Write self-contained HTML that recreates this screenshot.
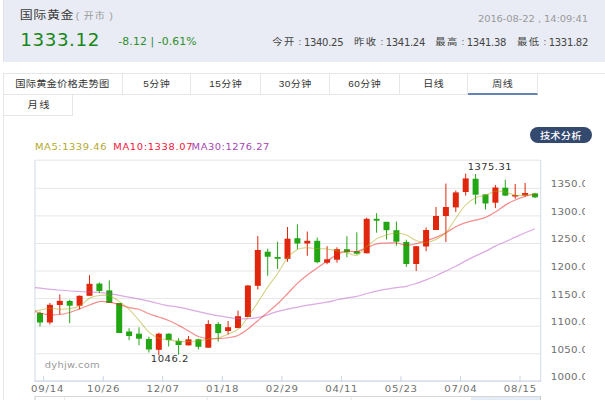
<!DOCTYPE html>
<html><head><meta charset="utf-8"><style>
*{margin:0;padding:0;box-sizing:border-box}
html,body{width:605px;height:400px;overflow:hidden;background:#fff}
body{position:relative;font-family:'Liberation Sans','Noto Sans CJK SC',sans-serif}
.t{position:absolute;white-space:nowrap;line-height:1;transform-origin:0 0}
#hdr{position:absolute;left:3px;top:0;width:602px;height:62px;background:#e9ecf5;border-left:1px solid #e0e3ec}
#box{position:absolute;left:3px;top:73px;width:603px;height:340px;border:1px solid #e6e6e6}
.tab{position:absolute;top:74px;height:21px;border-right:1px solid #e6e6e6;border-bottom:1px solid #e6e6e6}
.tab.act{border-bottom:2px solid #6684b3}
#ylab{position:absolute;left:540px;top:150px;width:45.3px;height:240px;overflow:hidden}
</style></head><body>
<div id="hdr"></div>
<div class="t" style="left:19.73px;top:9.70px;font-size:13.00px;letter-spacing:0.63px;transform:scaleY(0.840);color:#3a3a3a;font-family:'Liberation Sans','Noto Sans CJK SC',sans-serif;font-weight:400;">国际黄金</div>
<div class="t" style="left:75.80px;top:11.70px;font-size:10.00px;letter-spacing:0.98px;transform:scaleY(0.872);color:#9a9a9a;font-family:'Liberation Sans','Noto Sans CJK SC',sans-serif;font-weight:400;">( 开市 )</div>
<div class="t" style="left:20.19px;top:31.89px;font-size:18.30px;letter-spacing:0.60px;transform:scaleY(0.933);color:#17871a;font-family:'DejaVu Sans',sans-serif;">1333.12</div>
<div class="t" style="left:118.36px;top:37.46px;font-size:10.84px;letter-spacing:0.10px;transform:scaleY(0.959);color:#2b8f2b;font-family:'DejaVu Sans',sans-serif;">-8.12 | -0.61%</div>
<div class="t" style="left:477.90px;top:14.10px;font-size:9.97px;letter-spacing:-0.10px;transform:scaleY(0.950);color:#9a9a9a;font-family:'DejaVu Sans',sans-serif;">2016-08-22 , 14:09:41</div>
<div class="t" style="left:272.29px;top:37.80px;font-size:10.30px;letter-spacing:1.43px;transform:scaleY(0.878);color:#444;font-family:'Liberation Sans','Noto Sans CJK SC',sans-serif;font-weight:400;">今开</div>
<div class="t" style="left:298.60px;top:37.60px;font-size:8.08px;letter-spacing:0.00px;transform:scaleY(1.000);color:#555;font-family:'DejaVu Sans',sans-serif;">:</div>
<div class="t" style="left:303.90px;top:37.60px;font-size:10.03px;letter-spacing:-0.30px;transform:scaleY(0.990);color:#444;font-family:'DejaVu Sans',sans-serif;">1340.25</div>
<div class="t" style="left:354.09px;top:37.80px;font-size:10.30px;letter-spacing:1.43px;transform:scaleY(0.878);color:#444;font-family:'Liberation Sans','Noto Sans CJK SC',sans-serif;font-weight:400;">昨收</div>
<div class="t" style="left:380.40px;top:37.60px;font-size:8.08px;letter-spacing:0.00px;transform:scaleY(1.000);color:#555;font-family:'DejaVu Sans',sans-serif;">:</div>
<div class="t" style="left:385.70px;top:37.60px;font-size:10.03px;letter-spacing:-0.30px;transform:scaleY(0.990);color:#444;font-family:'DejaVu Sans',sans-serif;">1341.24</div>
<div class="t" style="left:435.19px;top:37.80px;font-size:10.30px;letter-spacing:1.43px;transform:scaleY(0.878);color:#444;font-family:'Liberation Sans','Noto Sans CJK SC',sans-serif;font-weight:400;">最高</div>
<div class="t" style="left:461.50px;top:37.60px;font-size:8.08px;letter-spacing:0.00px;transform:scaleY(1.000);color:#555;font-family:'DejaVu Sans',sans-serif;">:</div>
<div class="t" style="left:466.80px;top:37.60px;font-size:10.03px;letter-spacing:-0.30px;transform:scaleY(0.990);color:#444;font-family:'DejaVu Sans',sans-serif;">1341.38</div>
<div class="t" style="left:517.09px;top:37.80px;font-size:10.30px;letter-spacing:1.43px;transform:scaleY(0.878);color:#444;font-family:'Liberation Sans','Noto Sans CJK SC',sans-serif;font-weight:400;">最低</div>
<div class="t" style="left:543.40px;top:37.60px;font-size:8.08px;letter-spacing:0.00px;transform:scaleY(1.000);color:#555;font-family:'DejaVu Sans',sans-serif;">:</div>
<div class="t" style="left:548.70px;top:37.60px;font-size:10.03px;letter-spacing:-0.30px;transform:scaleY(0.990);color:#444;font-family:'DejaVu Sans',sans-serif;">1331.82</div>
<div id="box"></div>
<div class="tab" style="left:4px;width:119px"></div>
<div class="t" style="left:15.17px;top:79.65px;font-size:10.30px;letter-spacing:0.19px;transform:scaleY(0.909);color:#333;font-family:'Liberation Sans','Noto Sans CJK SC',sans-serif;font-weight:400;">国际黄金价格走势图</div>
<div class="tab" style="left:123px;width:68px"></div>
<div class="t" style="left:123.00px;top:79.80px;width:67px;text-align:center;font-size:10px;letter-spacing:0.5px;padding-left:0.5px;transform:scaleY(0.871);color:#333;font-weight:400;font-family:'Liberation Sans','Noto Sans CJK SC',sans-serif">5分钟</div>
<div class="tab" style="left:191px;width:70px"></div>
<div class="t" style="left:191.00px;top:79.80px;width:69px;text-align:center;font-size:10px;letter-spacing:0.5px;padding-left:0.5px;transform:scaleY(0.871);color:#333;font-weight:400;font-family:'Liberation Sans','Noto Sans CJK SC',sans-serif">15分钟</div>
<div class="tab" style="left:261px;width:69px"></div>
<div class="t" style="left:261.00px;top:79.80px;width:68px;text-align:center;font-size:10px;letter-spacing:0.5px;padding-left:0.5px;transform:scaleY(0.871);color:#333;font-weight:400;font-family:'Liberation Sans','Noto Sans CJK SC',sans-serif">30分钟</div>
<div class="tab" style="left:330px;width:70px"></div>
<div class="t" style="left:330.00px;top:79.80px;width:69px;text-align:center;font-size:10px;letter-spacing:0.5px;padding-left:0.5px;transform:scaleY(0.871);color:#333;font-weight:400;font-family:'Liberation Sans','Noto Sans CJK SC',sans-serif">60分钟</div>
<div class="tab" style="left:400px;width:68px"></div>
<div class="t" style="left:400.00px;top:79.80px;width:67px;text-align:center;font-size:10px;letter-spacing:0.5px;padding-left:0.5px;transform:scaleY(0.871);color:#333;font-weight:400;font-family:'Liberation Sans','Noto Sans CJK SC',sans-serif">日线</div>
<div class="tab act" style="left:468px;width:70px"></div>
<div class="t" style="left:468.00px;top:79.80px;width:69px;text-align:center;font-size:10px;letter-spacing:0.5px;padding-left:0.5px;transform:scaleY(0.871);color:#333;font-weight:400;font-family:'Liberation Sans','Noto Sans CJK SC',sans-serif">周线</div>
<div class="tab" style="left:4px;top:95px;width:69px"></div>
<div class="t" style="left:27.59px;top:100.58px;font-size:10.30px;letter-spacing:1.32px;transform:scaleY(0.877);color:#333;font-family:'Liberation Sans','Noto Sans CJK SC',sans-serif;font-weight:400;">月线</div>
<div class="t" style="left:530px;top:127px;width:62px;height:15.6px;border-radius:8px;background:#34496e"></div>
<div class="t" style="left:539.90px;top:131.60px;font-size:10.30px;letter-spacing:0.17px;transform:scaleY(0.899);color:#fff;font-family:'Liberation Sans','Noto Sans CJK SC',sans-serif;font-weight:500">技术分析</div>
<svg width="605" height="400" viewBox="0 0 605 400" style="position:absolute;left:0;top:0">
<defs><clipPath id="pc"><rect x="35" y="160" width="505" height="221"/></clipPath></defs>
<line x1="35" y1="160.2" x2="540" y2="160.2" stroke="#e6e6e6" stroke-width="1"/>
<line x1="35" y1="188.3" x2="540" y2="188.3" stroke="#e6e6e6" stroke-width="1"/>
<line x1="35" y1="215.9" x2="540" y2="215.9" stroke="#e6e6e6" stroke-width="1"/>
<line x1="35" y1="243.5" x2="540" y2="243.5" stroke="#e6e6e6" stroke-width="1"/>
<line x1="35" y1="271.0" x2="540" y2="271.0" stroke="#e6e6e6" stroke-width="1"/>
<line x1="35" y1="298.6" x2="540" y2="298.6" stroke="#e6e6e6" stroke-width="1"/>
<line x1="35" y1="326.2" x2="540" y2="326.2" stroke="#e6e6e6" stroke-width="1"/>
<line x1="35" y1="353.8" x2="540" y2="353.8" stroke="#e6e6e6" stroke-width="1"/>
<line x1="35" y1="160" x2="35" y2="381" stroke="#dbe2ec" stroke-width="1.3"/>
<line x1="540.6" y1="160" x2="540.6" y2="381" stroke="#dbe2ec" stroke-width="1.3"/>
<line x1="34.4" y1="381.2" x2="541.2" y2="381.2" stroke="#c9d4e4" stroke-width="1.3"/>
<line x1="43.7" y1="376" x2="43.7" y2="381" stroke="#c9d4e4" stroke-width="1"/>
<line x1="103.2" y1="376" x2="103.2" y2="381" stroke="#c9d4e4" stroke-width="1"/>
<line x1="162.7" y1="376" x2="162.7" y2="381" stroke="#c9d4e4" stroke-width="1"/>
<line x1="222.3" y1="376" x2="222.3" y2="381" stroke="#c9d4e4" stroke-width="1"/>
<line x1="281.9" y1="376" x2="281.9" y2="381" stroke="#c9d4e4" stroke-width="1"/>
<line x1="341.4" y1="376" x2="341.4" y2="381" stroke="#c9d4e4" stroke-width="1"/>
<line x1="400.9" y1="376" x2="400.9" y2="381" stroke="#c9d4e4" stroke-width="1"/>
<line x1="460.5" y1="376" x2="460.5" y2="381" stroke="#c9d4e4" stroke-width="1"/>
<line x1="520.0" y1="376" x2="520.0" y2="381" stroke="#c9d4e4" stroke-width="1"/>
<line x1="40.0" y1="311.5" x2="40.0" y2="326.5" stroke="#22a614" stroke-width="1"/>
<rect x="37.0" y="313.0" width="6" height="9.5" fill="#22a614"/>
<line x1="49.9" y1="303.0" x2="49.9" y2="324.5" stroke="#e0260c" stroke-width="1"/>
<rect x="46.9" y="304.8" width="6" height="17.7" fill="#e0260c"/>
<line x1="59.8" y1="294.5" x2="59.8" y2="314.5" stroke="#e0260c" stroke-width="1"/>
<rect x="56.8" y="300.8" width="6" height="4.2" fill="#e0260c"/>
<line x1="69.7" y1="299.7" x2="69.7" y2="323.2" stroke="#22a614" stroke-width="1"/>
<rect x="66.7" y="301.0" width="6" height="4.7" fill="#22a614"/>
<line x1="79.6" y1="295.5" x2="79.6" y2="309.3" stroke="#e0260c" stroke-width="1"/>
<rect x="76.6" y="295.8" width="6" height="9.9" fill="#e0260c"/>
<line x1="89.5" y1="275.2" x2="89.5" y2="295.8" stroke="#e0260c" stroke-width="1"/>
<rect x="86.5" y="283.8" width="6" height="12.0" fill="#e0260c"/>
<line x1="99.4" y1="282.6" x2="99.4" y2="293.0" stroke="#22a614" stroke-width="1"/>
<rect x="96.4" y="283.6" width="6" height="7.4" fill="#22a614"/>
<line x1="109.3" y1="280.4" x2="109.3" y2="303.0" stroke="#22a614" stroke-width="1"/>
<rect x="106.3" y="290.4" width="6" height="12.6" fill="#22a614"/>
<line x1="119.2" y1="303.0" x2="119.2" y2="333.0" stroke="#22a614" stroke-width="1"/>
<rect x="116.2" y="303.0" width="6" height="30.0" fill="#22a614"/>
<line x1="129.1" y1="328.2" x2="129.1" y2="340.2" stroke="#22a614" stroke-width="1"/>
<rect x="126.1" y="331.5" width="6" height="4.5" fill="#22a614"/>
<line x1="139.0" y1="327.3" x2="139.0" y2="345.3" stroke="#22a614" stroke-width="1"/>
<rect x="136.0" y="333.7" width="6" height="5.0" fill="#22a614"/>
<line x1="148.9" y1="336.7" x2="148.9" y2="352.5" stroke="#22a614" stroke-width="1"/>
<rect x="145.9" y="339.0" width="6" height="10.5" fill="#22a614"/>
<line x1="158.8" y1="332.7" x2="158.8" y2="355.2" stroke="#e0260c" stroke-width="1"/>
<rect x="155.8" y="333.7" width="6" height="16.1" fill="#e0260c"/>
<line x1="168.7" y1="333.3" x2="168.7" y2="346.5" stroke="#22a614" stroke-width="1"/>
<rect x="165.7" y="333.7" width="6" height="6.5" fill="#22a614"/>
<line x1="178.6" y1="338.2" x2="178.6" y2="354.7" stroke="#22a614" stroke-width="1"/>
<rect x="175.6" y="340.8" width="6" height="4.2" fill="#22a614"/>
<line x1="188.5" y1="336.0" x2="188.5" y2="345.4" stroke="#e0260c" stroke-width="1"/>
<rect x="185.5" y="339.3" width="6" height="6.1" fill="#e0260c"/>
<line x1="198.4" y1="338.7" x2="198.4" y2="349.5" stroke="#22a614" stroke-width="1"/>
<rect x="195.4" y="339.3" width="6" height="7.5" fill="#22a614"/>
<line x1="208.3" y1="320.2" x2="208.3" y2="347.7" stroke="#e0260c" stroke-width="1"/>
<rect x="205.3" y="324.0" width="6" height="23.7" fill="#e0260c"/>
<line x1="218.2" y1="321.9" x2="218.2" y2="341.7" stroke="#22a614" stroke-width="1"/>
<rect x="215.2" y="324.0" width="6" height="9.1" fill="#22a614"/>
<line x1="228.1" y1="321.0" x2="228.1" y2="334.7" stroke="#e0260c" stroke-width="1"/>
<rect x="225.1" y="327.2" width="6" height="3.8" fill="#e0260c"/>
<line x1="238.0" y1="310.6" x2="238.0" y2="328.1" stroke="#e0260c" stroke-width="1"/>
<rect x="235.0" y="316.2" width="6" height="11.9" fill="#e0260c"/>
<line x1="247.9" y1="285.0" x2="247.9" y2="317.0" stroke="#e0260c" stroke-width="1"/>
<rect x="244.9" y="285.5" width="6" height="31.5" fill="#e0260c"/>
<line x1="257.8" y1="236.0" x2="257.8" y2="289.5" stroke="#e0260c" stroke-width="1"/>
<rect x="254.8" y="250.0" width="6" height="35.8" fill="#e0260c"/>
<line x1="267.7" y1="248.7" x2="267.7" y2="275.7" stroke="#22a614" stroke-width="1"/>
<rect x="264.7" y="251.7" width="6" height="5.0" fill="#22a614"/>
<line x1="277.6" y1="241.7" x2="277.6" y2="269.0" stroke="#22a614" stroke-width="1"/>
<rect x="274.6" y="257.0" width="6" height="1.8" fill="#22a614"/>
<line x1="287.5" y1="227.0" x2="287.5" y2="261.8" stroke="#e0260c" stroke-width="1"/>
<rect x="284.5" y="238.7" width="6" height="20.1" fill="#e0260c"/>
<line x1="297.4" y1="224.3" x2="297.4" y2="249.2" stroke="#22a614" stroke-width="1"/>
<rect x="294.4" y="238.2" width="6" height="5.3" fill="#22a614"/>
<line x1="307.3" y1="231.5" x2="307.3" y2="255.8" stroke="#e0260c" stroke-width="1"/>
<rect x="304.3" y="240.8" width="6" height="2.7" fill="#e0260c"/>
<line x1="317.2" y1="237.5" x2="317.2" y2="263.3" stroke="#22a614" stroke-width="1"/>
<rect x="314.2" y="240.8" width="6" height="21.4" fill="#22a614"/>
<line x1="327.1" y1="246.2" x2="327.1" y2="264.2" stroke="#e0260c" stroke-width="1"/>
<rect x="324.1" y="259.3" width="6" height="3.4" fill="#e0260c"/>
<line x1="337.0" y1="247.3" x2="337.0" y2="262.7" stroke="#e0260c" stroke-width="1"/>
<rect x="334.0" y="249.2" width="6" height="10.5" fill="#e0260c"/>
<line x1="346.9" y1="236.2" x2="346.9" y2="257.2" stroke="#22a614" stroke-width="1"/>
<rect x="343.9" y="249.2" width="6" height="3.0" fill="#22a614"/>
<line x1="356.8" y1="232.3" x2="356.8" y2="254.5" stroke="#22a614" stroke-width="1"/>
<rect x="353.8" y="251.2" width="6" height="2.5" fill="#22a614"/>
<line x1="366.7" y1="217.7" x2="366.7" y2="253.3" stroke="#e0260c" stroke-width="1"/>
<rect x="363.7" y="218.8" width="6" height="34.5" fill="#e0260c"/>
<line x1="376.6" y1="213.2" x2="376.6" y2="232.7" stroke="#22a614" stroke-width="1"/>
<rect x="373.6" y="218.8" width="6" height="1.9" fill="#22a614"/>
<line x1="386.5" y1="221.8" x2="386.5" y2="239.5" stroke="#22a614" stroke-width="1"/>
<rect x="383.5" y="221.8" width="6" height="8.4" fill="#22a614"/>
<line x1="396.4" y1="221.5" x2="396.4" y2="245.8" stroke="#22a614" stroke-width="1"/>
<rect x="393.4" y="230.2" width="6" height="11.5" fill="#22a614"/>
<line x1="406.3" y1="239.7" x2="406.3" y2="266.9" stroke="#22a614" stroke-width="1"/>
<rect x="403.3" y="241.9" width="6" height="22.1" fill="#22a614"/>
<line x1="416.2" y1="246.2" x2="416.2" y2="271.0" stroke="#e0260c" stroke-width="1"/>
<rect x="413.2" y="246.2" width="6" height="17.8" fill="#e0260c"/>
<line x1="426.1" y1="227.4" x2="426.1" y2="251.2" stroke="#e0260c" stroke-width="1"/>
<rect x="423.1" y="230.0" width="6" height="16.5" fill="#e0260c"/>
<line x1="436.0" y1="207.0" x2="436.0" y2="230.0" stroke="#e0260c" stroke-width="1"/>
<rect x="433.0" y="216.0" width="6" height="14.0" fill="#e0260c"/>
<line x1="445.9" y1="183.6" x2="445.9" y2="242.0" stroke="#e0260c" stroke-width="1"/>
<rect x="442.9" y="207.0" width="6" height="9.0" fill="#e0260c"/>
<line x1="455.8" y1="190.6" x2="455.8" y2="212.0" stroke="#e0260c" stroke-width="1"/>
<rect x="452.8" y="192.4" width="6" height="15.0" fill="#e0260c"/>
<line x1="465.7" y1="173.6" x2="465.7" y2="195.6" stroke="#e0260c" stroke-width="1"/>
<rect x="462.7" y="178.4" width="6" height="13.6" fill="#e0260c"/>
<line x1="475.6" y1="174.0" x2="475.6" y2="204.4" stroke="#22a614" stroke-width="1"/>
<rect x="472.6" y="178.7" width="6" height="16.0" fill="#22a614"/>
<line x1="485.5" y1="194.4" x2="485.5" y2="209.4" stroke="#22a614" stroke-width="1"/>
<rect x="482.5" y="194.4" width="6" height="9.1" fill="#22a614"/>
<line x1="495.4" y1="185.0" x2="495.4" y2="208.1" stroke="#e0260c" stroke-width="1"/>
<rect x="492.4" y="187.5" width="6" height="15.2" fill="#e0260c"/>
<line x1="505.3" y1="179.7" x2="505.3" y2="196.2" stroke="#22a614" stroke-width="1"/>
<rect x="502.3" y="187.7" width="6" height="7.9" fill="#22a614"/>
<line x1="515.2" y1="184.0" x2="515.2" y2="198.7" stroke="#e0260c" stroke-width="1"/>
<rect x="512.2" y="195.0" width="6" height="1.5" fill="#e0260c"/>
<line x1="525.1" y1="183.0" x2="525.1" y2="196.5" stroke="#e0260c" stroke-width="1"/>
<rect x="522.1" y="193.0" width="6" height="2.5" fill="#e0260c"/>
<line x1="535.0" y1="192.8" x2="535.0" y2="198.0" stroke="#22a614" stroke-width="1"/>
<rect x="532.0" y="193.4" width="6" height="3.9" fill="#22a614"/>
<g clip-path="url(#pc)" fill="none" stroke-width="1.1">
<path d="M30.00,287.00 C30.83,287.08 30.42,287.00 35.00,287.50 C39.58,288.00 50.00,289.33 57.50,290.00 C65.00,290.67 73.25,291.10 80.00,291.50 C86.75,291.90 93.12,292.03 98.00,292.40 C102.88,292.77 104.80,293.02 109.30,293.70 C113.80,294.38 118.22,295.22 125.00,296.50 C131.78,297.78 143.33,299.95 150.00,301.40 C156.67,302.85 160.03,304.20 165.00,305.20 C169.97,306.20 172.38,305.90 179.80,307.40 C187.22,308.90 200.58,312.42 209.50,314.20 C218.42,315.98 226.85,317.35 233.30,318.10 C239.75,318.85 243.23,319.00 248.20,318.70 C253.17,318.40 258.13,317.53 263.10,316.30 C268.07,315.07 272.05,312.88 278.00,311.30 C283.95,309.72 290.62,308.32 298.80,306.80 C306.98,305.28 320.73,303.36 327.10,302.19 C333.47,301.01 333.70,300.44 337.00,299.74 C340.30,299.04 343.60,298.54 346.90,297.99 C350.20,297.44 353.50,297.16 356.80,296.42 C360.10,295.68 363.40,294.42 366.70,293.52 C370.00,292.62 373.30,291.74 376.60,291.02 C379.90,290.31 383.20,289.81 386.50,289.23 C389.80,288.66 393.10,288.08 396.40,287.59 C399.70,287.10 403.00,286.99 406.30,286.29 C409.60,285.59 412.90,284.47 416.20,283.40 C419.50,282.33 422.80,281.13 426.10,279.86 C429.40,278.59 432.70,277.25 436.00,275.77 C439.30,274.30 442.60,272.60 445.90,271.02 C449.20,269.45 452.50,268.00 455.80,266.31 C459.10,264.63 462.40,262.65 465.70,260.92 C469.00,259.19 472.30,257.50 475.60,255.91 C478.90,254.32 482.20,253.02 485.50,251.38 C488.80,249.74 492.10,247.67 495.40,246.07 C498.70,244.47 502.00,243.27 505.30,241.79 C508.60,240.31 511.90,238.70 515.20,237.19 C518.50,235.68 521.80,234.12 525.10,232.72 C528.40,231.31 533.35,229.41 535.00,228.75" stroke="#b955c9" stroke-opacity="0.5" stroke-width="1.25"/>
<path d="M30.10,309.50 C31.75,310.08 36.70,312.12 40.00,313.00 C43.30,313.88 46.60,314.55 49.90,314.80 C53.20,315.05 56.50,314.88 59.80,314.50 C63.10,314.12 66.40,313.45 69.70,312.50 C73.00,311.55 76.30,310.05 79.60,308.80 C82.90,307.55 86.20,306.20 89.50,305.00 C92.80,303.80 96.10,302.07 99.40,301.60 C102.70,301.13 106.00,301.70 109.30,302.20 C112.60,302.70 115.90,303.69 119.20,304.60 C122.50,305.51 125.80,306.86 129.10,307.64 C132.40,308.42 135.70,308.25 139.00,309.26 C142.30,310.27 145.60,312.44 148.90,313.73 C152.20,315.02 155.50,315.90 158.80,317.02 C162.10,318.14 165.40,319.07 168.70,320.47 C172.00,321.86 175.30,323.64 178.60,325.39 C181.90,327.13 185.20,329.08 188.50,330.94 C191.80,332.80 195.10,335.24 198.40,336.52 C201.70,337.80 205.00,338.27 208.30,338.62 C211.60,338.97 214.90,338.77 218.20,338.63 C221.50,338.49 224.80,338.27 228.10,337.75 C231.40,337.23 234.70,336.94 238.00,335.50 C241.30,334.06 244.60,331.56 247.90,329.10 C251.20,326.64 254.50,323.52 257.80,320.73 C261.10,317.94 264.40,315.21 267.70,312.38 C271.00,309.55 274.30,306.87 277.60,303.76 C280.90,300.65 284.20,297.10 287.50,293.70 C290.80,290.30 294.10,286.48 297.40,283.37 C300.70,280.26 304.00,277.62 307.30,275.05 C310.60,272.48 313.90,270.27 317.20,267.96 C320.50,265.65 323.80,263.42 327.10,261.17 C330.40,258.92 333.70,256.14 337.00,254.47 C340.30,252.80 343.60,251.63 346.90,251.14 C350.20,250.65 353.50,252.08 356.80,251.51 C360.10,250.94 363.40,248.99 366.70,247.72 C370.00,246.45 373.30,244.69 376.60,243.91 C379.90,243.13 383.20,243.23 386.50,243.06 C389.80,242.89 393.10,242.52 396.40,242.88 C399.70,243.24 403.00,245.08 406.30,245.20 C409.60,245.32 412.90,244.35 416.20,243.60 C419.50,242.84 422.80,241.71 426.10,240.67 C429.40,239.63 432.70,238.66 436.00,237.35 C439.30,236.04 442.60,234.61 445.90,232.83 C449.20,231.06 452.50,228.39 455.80,226.70 C459.10,225.00 462.40,223.77 465.70,222.66 C469.00,221.55 472.30,220.94 475.60,220.06 C478.90,219.18 482.20,218.74 485.50,217.39 C488.80,216.04 492.10,214.01 495.40,211.97 C498.70,209.93 502.00,207.12 505.30,205.13 C508.60,203.14 511.90,201.48 515.20,200.01 C518.50,198.54 521.80,197.24 525.10,196.31 C528.40,195.38 533.35,194.75 535.00,194.44" stroke="#ef1d1d" stroke-opacity="0.5" stroke-width="1.25"/>
<path d="M30.10,311.50 C31.75,311.23 36.70,310.43 40.00,309.90 C43.30,309.37 46.60,308.42 49.90,308.30 C53.20,308.18 56.50,309.12 59.80,309.20 C63.10,309.28 66.40,309.35 69.70,308.80 C73.00,308.25 76.30,307.69 79.60,305.92 C82.90,304.15 86.20,299.93 89.50,298.18 C92.80,296.43 96.10,295.81 99.40,295.42 C102.70,295.03 106.00,294.88 109.30,295.86 C112.60,296.84 115.90,299.07 119.20,301.32 C122.50,303.57 125.80,306.19 129.10,309.36 C132.40,312.53 135.70,316.56 139.00,320.34 C142.30,324.12 145.60,329.07 148.90,332.04 C152.20,335.01 155.50,336.92 158.80,338.18 C162.10,339.44 165.40,339.08 168.70,339.62 C172.00,340.16 175.30,341.10 178.60,341.42 C181.90,341.74 185.20,341.61 188.50,341.54 C191.80,341.47 195.10,341.41 198.40,341.00 C201.70,340.59 205.00,339.62 208.30,339.06 C211.60,338.50 214.90,338.47 218.20,337.64 C221.50,336.81 224.80,335.44 228.10,334.08 C231.40,332.72 234.70,332.27 238.00,329.46 C241.30,326.65 244.60,321.71 247.90,317.20 C251.20,312.69 254.50,307.41 257.80,302.40 C261.10,297.39 264.40,291.95 267.70,287.12 C271.00,282.29 274.30,278.30 277.60,273.44 C280.90,268.58 284.20,261.92 287.50,257.94 C290.80,253.96 294.10,251.25 297.40,249.54 C300.70,247.83 304.00,247.82 307.30,247.70 C310.60,247.58 313.90,248.60 317.20,248.80 C320.50,249.00 323.80,248.53 327.10,248.90 C330.40,249.27 333.70,250.36 337.00,251.00 C340.30,251.64 343.60,252.02 346.90,252.74 C350.20,253.46 353.50,256.34 356.80,255.32 C360.10,254.30 363.40,249.37 366.70,246.64 C370.00,243.91 373.30,240.84 376.60,238.92 C379.90,237.00 383.20,236.10 386.50,235.12 C389.80,234.14 393.10,233.03 396.40,233.02 C399.70,233.01 403.00,233.82 406.30,235.08 C409.60,236.34 412.90,239.34 416.20,240.56 C419.50,241.78 422.80,242.58 426.10,242.42 C429.40,242.26 432.70,241.21 436.00,239.58 C439.30,237.95 442.60,236.18 445.90,232.64 C449.20,229.10 452.50,222.97 455.80,218.32 C459.10,213.67 462.40,208.20 465.70,204.76 C469.00,201.32 472.30,199.29 475.60,197.70 C478.90,196.11 482.20,196.27 485.50,195.20 C488.80,194.13 492.10,191.84 495.40,191.30 C498.70,190.76 502.00,191.28 505.30,191.94 C508.60,192.60 511.90,194.76 515.20,195.26 C518.50,195.76 521.80,195.18 525.10,194.92 C528.40,194.66 533.35,193.89 535.00,193.68" stroke="#a7a507" stroke-opacity="0.5" stroke-width="1.05"/>
</g>
<rect x="471" y="396.5" width="69.5" height="10" fill="#e3ecf7"/>
<line x1="35" y1="396.5" x2="540.5" y2="396.5" stroke="#d6d6d6" stroke-width="1"/>
<line x1="35" y1="396" x2="35" y2="400" stroke="#c8c8c8" stroke-width="1"/>
<line x1="540.5" y1="396" x2="540.5" y2="400" stroke="#c8c8c8" stroke-width="1"/>
<line x1="64.7" y1="397" x2="64.7" y2="400" stroke="#e8e8e8" stroke-width="1"/>
<line x1="207.0" y1="397" x2="207.0" y2="400" stroke="#e8e8e8" stroke-width="1"/>
<line x1="351.0" y1="397" x2="351.0" y2="400" stroke="#e8e8e8" stroke-width="1"/>
<line x1="493.0" y1="397" x2="493.0" y2="400" stroke="#e8e8e8" stroke-width="1"/>
</svg>
<div class="t" style="left:35.01px;top:143.22px;font-size:9.90px;letter-spacing:0.57px;transform:scaleY(0.899);color:#b2a82e;font-family:'DejaVu Sans',sans-serif;">MA5:1339.46</div>
<div class="t" style="left:113.21px;top:143.22px;font-size:9.90px;letter-spacing:0.66px;transform:scaleY(0.899);color:#f5143c;font-family:'DejaVu Sans',sans-serif;">MA10:1338.07</div>
<div class="t" style="left:191.61px;top:143.22px;font-size:9.90px;letter-spacing:0.52px;transform:scaleY(0.899);color:#a646b4;font-family:'DejaVu Sans',sans-serif;">MA30:1276.27</div>
<div class="t" style="left:44.81px;top:361.10px;font-size:9.88px;letter-spacing:0.30px;transform:scaleY(0.920);color:#9a9a9a;font-family:'DejaVu Sans',sans-serif;">dyhjw.com</div>
<div class="t" style="left:467.82px;top:162.89px;font-size:9.85px;letter-spacing:0.50px;transform:scaleY(0.921);color:#333;font-family:'DejaVu Sans',sans-serif;">1375.31</div>
<div class="t" style="left:150.80px;top:354.71px;font-size:10.03px;letter-spacing:0.50px;transform:scaleY(0.879);color:#333;font-family:'DejaVu Sans',sans-serif;">1046.2</div>
<div id="ylab"><div style="position:absolute;left:-540px;top:-150px;width:605px;height:400px"><div class="t" style="left:550.67px;top:180.30px;font-size:10.30px;letter-spacing:0.27px;transform:scaleY(0.820);color:#707070;font-family:'DejaVu Sans',sans-serif;">1350.00</div>
<div class="t" style="left:550.67px;top:207.88px;font-size:10.30px;letter-spacing:0.27px;transform:scaleY(0.820);color:#707070;font-family:'DejaVu Sans',sans-serif;">1300.00</div>
<div class="t" style="left:550.67px;top:235.46px;font-size:10.30px;letter-spacing:0.27px;transform:scaleY(0.820);color:#707070;font-family:'DejaVu Sans',sans-serif;">1250.00</div>
<div class="t" style="left:550.67px;top:263.04px;font-size:10.30px;letter-spacing:0.27px;transform:scaleY(0.820);color:#707070;font-family:'DejaVu Sans',sans-serif;">1200.00</div>
<div class="t" style="left:550.67px;top:290.62px;font-size:10.30px;letter-spacing:0.27px;transform:scaleY(0.820);color:#707070;font-family:'DejaVu Sans',sans-serif;">1150.00</div>
<div class="t" style="left:550.67px;top:318.20px;font-size:10.30px;letter-spacing:0.27px;transform:scaleY(0.820);color:#707070;font-family:'DejaVu Sans',sans-serif;">1100.00</div>
<div class="t" style="left:550.67px;top:345.78px;font-size:10.30px;letter-spacing:0.27px;transform:scaleY(0.820);color:#707070;font-family:'DejaVu Sans',sans-serif;">1050.00</div>
<div class="t" style="left:550.67px;top:373.36px;font-size:10.30px;letter-spacing:0.27px;transform:scaleY(0.820);color:#707070;font-family:'DejaVu Sans',sans-serif;">1000.00</div></div></div>
<div class="t" style="left:31.09px;top:384.99px;font-size:10.14px;letter-spacing:0.80px;transform:scaleY(0.882);color:#707070;font-family:'DejaVu Sans',sans-serif;">09/14</div>
<div class="t" style="left:73.20px;top:384.99px;width:60px;text-align:center;font-size:10.14px;letter-spacing:0.8px;padding-left:0.8px;transform:scaleY(0.882);color:#707070;font-family:'DejaVu Sans',sans-serif">10/26</div>
<div class="t" style="left:132.70px;top:384.99px;width:60px;text-align:center;font-size:10.14px;letter-spacing:0.8px;padding-left:0.8px;transform:scaleY(0.882);color:#707070;font-family:'DejaVu Sans',sans-serif">12/07</div>
<div class="t" style="left:192.30px;top:384.99px;width:60px;text-align:center;font-size:10.14px;letter-spacing:0.8px;padding-left:0.8px;transform:scaleY(0.882);color:#707070;font-family:'DejaVu Sans',sans-serif">01/18</div>
<div class="t" style="left:251.90px;top:384.99px;width:60px;text-align:center;font-size:10.14px;letter-spacing:0.8px;padding-left:0.8px;transform:scaleY(0.882);color:#707070;font-family:'DejaVu Sans',sans-serif">02/29</div>
<div class="t" style="left:311.40px;top:384.99px;width:60px;text-align:center;font-size:10.14px;letter-spacing:0.8px;padding-left:0.8px;transform:scaleY(0.882);color:#707070;font-family:'DejaVu Sans',sans-serif">04/11</div>
<div class="t" style="left:370.90px;top:384.99px;width:60px;text-align:center;font-size:10.14px;letter-spacing:0.8px;padding-left:0.8px;transform:scaleY(0.882);color:#707070;font-family:'DejaVu Sans',sans-serif">05/23</div>
<div class="t" style="left:430.50px;top:384.99px;width:60px;text-align:center;font-size:10.14px;letter-spacing:0.8px;padding-left:0.8px;transform:scaleY(0.882);color:#707070;font-family:'DejaVu Sans',sans-serif">07/04</div>
<div class="t" style="left:490.00px;top:384.99px;width:60px;text-align:center;font-size:10.14px;letter-spacing:0.8px;padding-left:0.8px;transform:scaleY(0.882);color:#707070;font-family:'DejaVu Sans',sans-serif">08/15</div>
</body></html>
